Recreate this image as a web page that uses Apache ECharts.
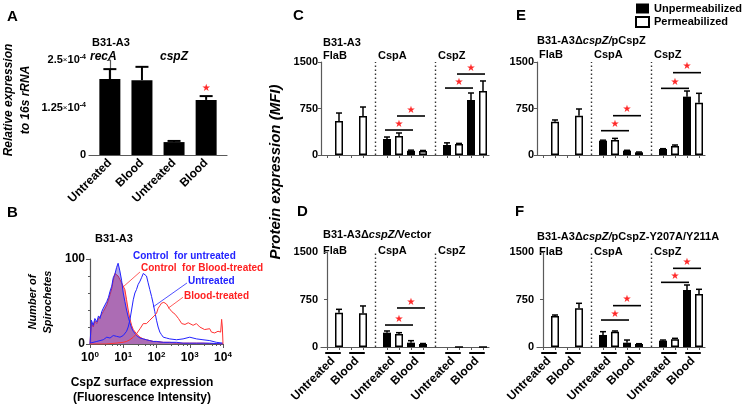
<!DOCTYPE html>
<html><head><meta charset="utf-8">
<script src="https://cdn.jsdelivr.net/npm/echarts@6/dist/echarts.min.js"></script>
<style>html,body{margin:0;padding:0;background:#fff}#c{width:746px;height:407px}</style>
</head><body><div id="c"></div>
<script>
// ---------------- Panel A data ----------------
const aCategories = ['Untreated', 'Blood', 'Untreated', 'Blood'];
const aGenes = ['recA', 'cspZ'];
const aValues = [2.00e-4, 1.97e-4, 0.34e-4, 1.45e-4];
const aErrors = [0.26e-4, 0.35e-4, 0.03e-4, 0.10e-4];
const aSignificant = [3];
const aYTicks = [0, 1.25e-4, 2.5e-4];

// ---------------- Panel B data (histograms) ----------------
const bCtrlX = [1, 1.1, 1.25, 1.4, 1.6, 1.8, 2.0, 2.25, 2.5, 2.8, 3.2, 3.6, 4.0, 4.5, 5.0, 5.6, 6.3, 7.0, 7.9, 8.9, 10, 11.2, 12.6, 14.1, 15.8, 17.8, 20, 25, 32, 40, 50, 63, 80, 100, 160, 250, 400, 630, 1000, 1600, 2500, 4000, 6300, 10000];
const bCtrlUntreatedY = [0, 28, 22, 30, 26, 33, 30, 38, 42, 40, 50, 55, 62, 68, 78, 82, 90, 95, 86, 75, 60, 50, 40, 32, 25, 19, 15, 10, 7, 6, 5, 4, 3, 3, 2, 2, 2, 1, 1, 1, 1, 1, 0.5, 0];
const bCtrlBloodY = [0, 25, 20, 27, 24, 30, 28, 35, 38, 37, 46, 52, 58, 65, 75, 83, 84, 80, 76, 72, 70, 64, 52, 40, 30, 22, 17, 12, 8, 6, 5, 4, 3, 3, 2, 2, 1, 1, 1, 1, 1, 0.5, 0.5, 0];
const bUntreatedX = [1, 1.6, 2.5, 3.2, 4, 5, 6.3, 8, 10, 12.6, 14.1, 15.8, 17.8, 20, 22.4, 25, 28, 32, 35.5, 40, 45, 50, 56, 63, 71, 79, 89, 100, 112, 126, 141, 160, 200, 250, 400, 630, 1000, 1600, 2500, 4000, 6300, 10000];
const bUntreatedY = [1, 3, 5, 8, 7, 10, 9, 8, 10, 15, 20, 28, 40, 52, 60, 64, 70, 74, 78, 83, 82, 80, 72, 64, 56, 48, 38, 28, 20, 14, 11, 8, 7, 6, 5, 6, 8, 6, 5, 4, 2, 1];
const bBloodX = [1, 3, 6, 10, 12.6, 15.8, 20, 25, 32, 40, 45, 50, 56, 63, 72, 85, 100, 112, 126, 141, 166, 200, 240, 290, 363, 457, 575, 720, 900, 1000, 1260, 1585, 2000, 2240, 2800, 3160, 3980, 4500, 5620, 7080, 8510, 9100, 9550, 10000];
const bBloodY = [0, 0, 1, 2, 3, 5, 8, 12, 18, 24, 26, 24, 25, 28, 30, 33, 36, 42, 45, 48, 49, 47, 42, 38, 35, 30, 24, 23, 25, 26, 22, 24, 20, 18, 17, 16, 18, 14, 13, 15, 14, 29, 20, 0];
const bXTicks = [1, 10, 100, 1000, 10000];
const bYTicks = [0, 100];

// ---------------- Panels C-F data ----------------
const targets = ['FlaB', 'CspA', 'CspZ'];
const treatments = ['Untreated', 'Blood'];
const proteinTicks = [0, 750, 1500];
// order: FlaB-Untreated, FlaB-Blood, CspA-Untreated, CspA-Blood, CspZ-Untreated, CspZ-Blood
const cUnperm    = [0, 0, 258, 68, 161, 887];
const cUnpermErr = [0, 0, 32, 10, 35, 113];
const cPerm      = [548, 629, 306, 65, 177, 1032];
const cPermErr   = [129, 145, 49, 8, 10, 162];
const cSig = [['CspA', 'unperm', 403], ['CspA', 'perm', 629], ['CspZ', 'unperm', 1080], ['CspZ', 'perm', 1306]];

const dUnperm    = [0, 0, 226, 68, 0, 0];
const dUnpermErr = [0, 0, 27, 32, 0, 0];
const dPerm      = [542, 532, 205, 47, 0, 0];
const dPermErr   = [53, 116, 21, 8, 0, 0];
const dSig = [['CspA', 'unperm', 347], ['CspA', 'perm', 616]];

const eUnperm    = [0, 0, 231, 70, 97, 941];
const eUnpermErr = [0, 0, 8, 6, 5, 91];
const ePerm      = [537, 634, 242, 43, 145, 844];
const ePermErr   = [28, 108, 26, 5, 16, 151];
const eSig = [['CspA', 'unperm', 392], ['CspA', 'perm', 634], ['CspZ', 'unperm', 1075], ['CspZ', 'perm', 1328]];

const fUnperm    = [0, 0, 190, 68, 100, 900];
const fUnpermErr = [0, 0, 52, 42, 10, 79];
const fPerm      = [490, 611, 242, 47, 121, 837];
const fPermErr   = [15, 79, 11, 5, 16, 74];
const fSig = [['CspA', 'unperm', 426], ['CspA', 'perm', 653], ['CspZ', 'unperm', 1021], ['CspZ', 'perm', 1242]];

// ---------------- build ----------------
const FONT = 'Arial, "Liberation Sans", Helvetica, sans-serif';
const AX = '#5a5a5a';
const RED = '#ff2a2a';
const BLUE = '#2222ff';

const slotNames = [];
const sepNames = [];
targets.forEach((t, ti) => {
  if (ti > 0) { const s = 'sep' + ti; slotNames.push(s); sepNames.push(s); }
  treatments.forEach(tr => { slotNames.push(t + ' ' + tr + ' unperm'); slotNames.push(t + ' ' + tr + ' perm'); });
});
const slotOf = (ti, k, perm) => ti * 5 + k * 2 + (perm ? 1 : 0);
const pairCenters = [];
targets.forEach((t, ti) => treatments.forEach((tr, k) => pairCenters.push(slotOf(ti, k, 0) + 0.5)));

function errRender(capHalf, lw) {
  return function (params, api) {
    const x = api.value(0), v = api.value(1), e = api.value(2);
    const p0 = api.coord([x, v]), p1 = api.coord([x, v + e]);
    return {
      type: 'group', children: [
        { type: 'line', shape: { x1: p0[0], y1: p0[1], x2: p1[0], y2: p1[1] }, style: { stroke: '#000', lineWidth: lw } },
        { type: 'line', shape: { x1: p1[0] - capHalf, y1: p1[1], x2: p1[0] + capHalf, y2: p1[1] }, style: { stroke: '#000', lineWidth: lw } }
      ]
    };
  };
}
function starEl(x, y) {
  return { type: 'text', x: x, y: y, style: { text: '★', fill: RED, fontSize: 10, fontFamily: '"DejaVu Sans", sans-serif', align: 'center', verticalAlign: 'bottom', textAlign: 'center', textVerticalAlign: 'bottom' } };
}
function sigRender(params, api) {
  const a = api.value(0), b = api.value(1), v = api.value(2);
  const p0 = api.coord([a, v]), p1 = api.coord([b, v]);
  return {
    type: 'group', children: [
      { type: 'line', shape: { x1: p0[0] - 2, y1: p0[1], x2: p1[0] + 2, y2: p1[1] }, style: { stroke: '#000', lineWidth: 1.6 } },
      starEl((p0[0] + p1[0]) / 2, p0[1] - 1)
    ]
  };
}
function pairLineRender(params, api) {
  const p0 = api.coord([api.value(0), 0]), p1 = api.coord([api.value(1), 0]);
  return { type: 'line', shape: { x1: p0[0], y1: p0[1] + 6, x2: p1[0], y2: p1[1] + 6 }, style: { stroke: '#000', lineWidth: 2 } };
}

const grids = [
  { left: 89, top: 60, width: 138, height: 95 },   // A
  { left: 90, top: 259, width: 133, height: 85 },  // B
  { left: 321, top: 62, width: 168, height: 93 },  // C
  { left: 321, top: 252, width: 168, height: 95 }, // D
  { left: 537, top: 62, width: 168, height: 93 },  // E
  { left: 537, top: 252, width: 168, height: 95 }  // F
];

const lblStyle = { color: '#000', fontFamily: FONT, fontWeight: 'bold', fontSize: 11 };
const xAxes = [];
const yAxes = [];

xAxes.push({
  type: 'value', gridIndex: 0, min: -0.65, max: 3.65, position: 'bottom',
  axisLine: { show: true, onZero: false, lineStyle: { color: AX, width: 1.2 } },
  axisTick: { show: false }, splitLine: { show: false },
  axisLabel: Object.assign({}, lblStyle, { fontSize: 12, customValues: [0, 1, 2, 3], rotate: 45, margin: 6, formatter: v => aCategories[Math.round(v)] })
});
yAxes.push({
  type: 'value', gridIndex: 0, min: aYTicks[0], max: aYTicks[2], interval: aYTicks[1],
  axisLine: { show: true, lineStyle: { color: AX, width: 1.2 } },
  axisTick: { show: true, length: 3, lineStyle: { color: AX } }, splitLine: { show: false },
  axisLabel: {
    margin: 3, color: '#000',
    formatter: v => v === 0 ? '{n|0}' : '{n|' + (+(v * 1e4).toFixed(2)) + '}{x|×}{n|10}{s|-4}',
    rich: {
      n: { fontFamily: FONT, fontWeight: 'bold', fontSize: 11, color: '#000' },
      x: { fontFamily: FONT, fontSize: 8, color: '#000' },
      s: { fontFamily: FONT, fontWeight: 'bold', fontSize: 7, color: '#000', verticalAlign: 'top', padding: [0, 0, 5, 0] }
    }
  }
});
xAxes.push({
  type: 'log', gridIndex: 1, min: bXTicks[0], max: bXTicks[4], logBase: 10, position: 'bottom',
  axisLine: { show: true, onZero: false, lineStyle: { color: AX, width: 1.2 } },
  axisTick: { show: true, length: 4, lineStyle: { color: AX } },
  minorTick: { show: true, splitNumber: 5, length: 2, lineStyle: { color: AX } },
  splitLine: { show: false }, minorSplitLine: { show: false },
  axisLabel: {
    margin: 7, color: '#000',
    formatter: v => '{b|10}{s|' + Math.round(Math.log10(v)) + '}',
    rich: {
      b: { fontFamily: FONT, fontWeight: 'bold', fontSize: 12, color: '#000' },
      s: { fontFamily: FONT, fontWeight: 'bold', fontSize: 8, color: '#000', verticalAlign: 'top', padding: [0, 0, 6, 0] }
    }
  }
});
yAxes.push({
  type: 'value', gridIndex: 1, min: bYTicks[0], max: bYTicks[1], interval: 100,
  axisLine: { show: true, lineStyle: { color: AX, width: 1.2 } },
  axisTick: { show: true, length: 4, lineStyle: { color: AX } },
  minorTick: { show: true, splitNumber: 5, length: 2, lineStyle: { color: AX } },
  splitLine: { show: false }, minorSplitLine: { show: false },
  axisLabel: Object.assign({}, lblStyle, { fontSize: 12, margin: 5 })
});
for (let g = 2; g <= 5; g++) {
  xAxes.push({
    type: 'category', gridIndex: g, data: slotNames, position: 'bottom',
    axisLine: { show: true, lineStyle: { color: AX, width: 1.2 } },
    axisTick: { show: true, alignWithLabel: true, length: 3, lineStyle: { color: AX }, interval: (i, name) => sepNames.indexOf(name) < 0 },
    axisLabel: { show: false }, splitLine: { show: false }
  });
  yAxes.push({
    type: 'value', gridIndex: g, min: proteinTicks[0], max: proteinTicks[2], interval: proteinTicks[1],
    axisLine: { show: true, lineStyle: { color: AX, width: 1.2 } },
    axisTick: { show: true, length: 3, lineStyle: { color: AX } }, splitLine: { show: false },
    axisLabel: Object.assign({}, lblStyle, { margin: 3, formatter: v => String(v) })
  });
}
[3, 5].forEach(g => xAxes.push({
  type: 'value', gridIndex: g, min: -0.5, max: slotNames.length - 0.5, position: 'bottom', offset: 0,
  axisLine: { show: false, onZero: false }, axisTick: { show: false }, splitLine: { show: false },
  axisLabel: Object.assign({}, lblStyle, { fontSize: 12, customValues: pairCenters, rotate: 45, margin: 12,
    formatter: v => treatments[Math.round(((v - 0.5) % 5) / 2)] })
}));

const series = [];
series.push({
  name: 'A', type: 'bar', xAxisIndex: 0, yAxisIndex: 0, barWidth: 21,
  data: aValues.map((v, i) => [i, v]), itemStyle: { color: '#000' },
  markLine: { silent: true, symbol: 'none', label: { show: false }, lineStyle: { color: '#000', type: [4, 3], width: 1.3 },
    data: [[{ coord: [1.5, 0] }, { coord: [1.5, 2.63e-4] }]] }
});
series.push({ name: 'A err', type: 'custom', xAxisIndex: 0, yAxisIndex: 0, clip: false,
  data: aValues.map((v, i) => [i, v, aErrors[i]]), encode: { x: 0, y: [1, 2] }, renderItem: errRender(6.5, 2) });
series.push({ name: 'A sig', type: 'custom', xAxisIndex: 0, yAxisIndex: 0, clip: false,
  data: aSignificant.map(i => [i, aValues[i] + aErrors[i]]), encode: { x: 0, y: 1 },
  renderItem: (p, api) => { const c = api.coord([api.value(0), api.value(1)]); return starEl(c[0], c[1] - 3); } });

const toPts = (xs, ys) => xs.map((x, i) => [x, ys[i]]);
const leader = (x1, y1, x2, y2, color) => ({ silent: true, symbol: 'none', label: { show: false }, lineStyle: { color: color, width: 0.8, type: 'solid' },
  data: [[{ coord: [x1, y1] }, { coord: [x2, y2] }]] });
series.push({ name: 'Control for Blood-treated', type: 'line', xAxisIndex: 1, yAxisIndex: 1, showSymbol: false, z: 2,
  data: toPts(bCtrlX, bCtrlBloodY), lineStyle: { color: '#ff3333', width: 1 }, areaStyle: { color: 'rgba(235,40,60,0.65)' },
  markLine: leader(9.8, 67, 31.8, 84.7, '#ff3333') });
series.push({ name: 'Control for untreated', type: 'line', xAxisIndex: 1, yAxisIndex: 1, showSymbol: false, z: 3,
  data: toPts(bCtrlX, bCtrlUntreatedY), lineStyle: { color: BLUE, width: 1 }, areaStyle: { color: 'rgba(70,40,200,0.6)' },
  markLine: leader(6.95, 84.7, 19.6, 101, BLUE) });
series.push({ name: 'Untreated', type: 'line', xAxisIndex: 1, yAxisIndex: 1, showSymbol: false, z: 4,
  data: toPts(bUntreatedX, bUntreatedY), lineStyle: { color: BLUE, width: 1 },
  markLine: leader(78.5, 43.5, 826, 71.8, BLUE) });
series.push({ name: 'Blood-treated', type: 'line', xAxisIndex: 1, yAxisIndex: 1, showSymbol: false, z: 4,
  data: toPts(bBloodX, bBloodY), lineStyle: { color: '#ff3333', width: 1 },
  markLine: leader(222, 42, 626, 55, '#ff3333') });

function addPanel(g, labelAxis, unperm, unpermErr, perm, permErr, sig) {
  const black = slotNames.map(() => null), white = slotNames.map(() => null), errs = [];
  targets.forEach((t, ti) => treatments.forEach((tr, k) => {
    const idx = ti * 2 + k;
    const sb = slotOf(ti, k, 0), sw = slotOf(ti, k, 1);
    black[sb] = unperm[idx]; white[sw] = perm[idx];
    if (unpermErr[idx] > 0) errs.push([sb, unperm[idx], unpermErr[idx]]);
    if (permErr[idx] > 0) errs.push([sw, perm[idx], permErr[idx]]);
  }));
  series.push({ name: 'Unpermeabilized', type: 'bar', xAxisIndex: g, yAxisIndex: g, barWidth: 8, barGap: '-100%',
    data: black, itemStyle: { color: '#000' },
    markLine: { silent: true, symbol: 'none', label: { show: false }, lineStyle: { color: '#333', type: [1.5, 2.5], width: 1.4 },
      data: sepNames.map(s => ({ xAxis: s })) } });
  series.push({ name: 'Permeabilized', type: 'bar', xAxisIndex: g, yAxisIndex: g, barWidth: 8, barGap: '-100%',
    data: white, itemStyle: { color: '#fff', borderColor: '#000', borderWidth: 1.5 } });
  series.push({ name: 'err' + g, type: 'custom', xAxisIndex: g, yAxisIndex: g, clip: false, z: 3,
    data: errs, encode: { x: 0, y: [1, 2] }, renderItem: errRender(3, 1.5) });
  series.push({ name: 'sig' + g, type: 'custom', xAxisIndex: g, yAxisIndex: g, clip: false, z: 3,
    data: sig.map(s => { const ti = targets.indexOf(s[0]); const pm = s[1] === 'perm'; return [slotOf(ti, 0, pm), slotOf(ti, 1, pm), s[2]]; }),
    encode: { x: [0, 1], y: 2 }, renderItem: sigRender });
  if (labelAxis != null) {
    series.push({ name: 'pairs' + g, type: 'custom', xAxisIndex: labelAxis, yAxisIndex: g, clip: false,
      data: pairCenters.map(c => [c - 0.65, c + 0.65]), encode: { x: [0, 1] }, renderItem: pairLineRender });
  }
}
addPanel(2, null, cUnperm, cUnpermErr, cPerm, cPermErr, cSig);
addPanel(3, 6, dUnperm, dUnpermErr, dPerm, dPermErr, dSig);
addPanel(4, null, eUnperm, eUnpermErr, ePerm, ePermErr, eSig);
addPanel(5, 7, fUnperm, fUnpermErr, fPerm, fPermErr, fSig);

function T(x, y, text, o) {
  o = o || {};
  const st = { text: text, fill: o.color || '#000', fontFamily: FONT, fontSize: o.size || 11, fontWeight: o.weight || 'bold',
    fontStyle: o.italic ? 'italic' : 'normal', align: o.align || 'left', textAlign: o.align || 'left',
    verticalAlign: 'middle', textVerticalAlign: 'middle' };
  if (o.lh) st.lineHeight = o.lh;
  if (o.rich) st.rich = o.rich;
  return { type: 'text', x: x, y: y, rotation: o.rot || 0, silent: true, style: st };
}
const ital = { i: { fontStyle: 'italic', fontWeight: 'bold', fontSize: 11, fontFamily: FONT, fill: '#000', color: '#000' } };
const texts = [
  T(7, 17, 'A', { size: 15 }), T(7, 213, 'B', { size: 15 }), T(293, 16, 'C', { size: 15 }),
  T(297, 212, 'D', { size: 15 }), T(516, 16, 'E', { size: 15 }), T(515, 212, 'F', { size: 15 }),
  T(92, 43, 'B31-A3', { size: 11 }),
  T(90, 57, aGenes[0], { size: 12, italic: true }), T(160, 57, aGenes[1], { size: 12, italic: true }),
  T(17, 100, 'Relative expression\nto 16s rRNA', { size: 12, italic: true, align: 'center', lh: 17, rot: Math.PI / 2 }),
  T(95, 239, 'B31-A3', { size: 11 }),
  T(40, 302, 'Number of\nSpirochetes', { size: 11, italic: true, align: 'center', lh: 15, rot: Math.PI / 2 }),
  T(142, 390, 'CspZ surface expression\n(Fluorescence Intensity)', { size: 12, align: 'center', lh: 15 }),
  T(133, 256, 'Control  for untreated', { size: 10, color: BLUE }),
  T(141, 268, 'Control  for Blood-treated', { size: 10, color: '#ff2020' }),
  T(188, 281, 'Untreated', { size: 10, color: BLUE }),
  T(184, 296, 'Blood-treated', { size: 10, color: '#ff2020' }),
  T(276, 172, 'Protein expression (MFI)', { size: 15, italic: true, align: 'center', rot: Math.PI / 2 }),
  T(323, 43, 'B31-A3', { size: 11 }),
  T(323, 235, 'B31-A3Δ{i|cspZ/}Vector', { size: 11, rich: ital }),
  T(537, 41, 'B31-A3Δ{i|cspZ/}pCspZ', { size: 11, rich: ital }),
  T(537, 237, 'B31-A3Δ{i|cspZ/}pCspZ-Y207A/Y211A', { size: 11, rich: ital })
];
[[321, 56], [321, 251], [537, 55], [537, 252]].forEach(p => {
  targets.forEach((t, ti) => {
    const x = ti === 0 ? p[0] + 2 : p[0] + (ti * 5 - 0.5) * 12 + 3;
    texts.push(T(x, p[1], t, { size: 11 }));
  });
});

const chart = echarts.init(document.getElementById('c'), null, { renderer: 'canvas' });
chart.setOption({
  animation: false,
  textStyle: { fontFamily: FONT },
  legend: {
    data: ['Unpermeabilized', 'Permeabilized'], left: 635, top: 3, orient: 'vertical', itemWidth: 13, itemHeight: 10, itemGap: 2,
    icon: 'rect', padding: 0, selectedMode: false,
    textStyle: { fontFamily: FONT, fontWeight: 'bold', fontSize: 11, color: '#000' }
  },
  grid: grids,
  xAxis: xAxes,
  yAxis: yAxes,
  series: series,
  graphic: { elements: texts }
});
</script>
</body></html>
